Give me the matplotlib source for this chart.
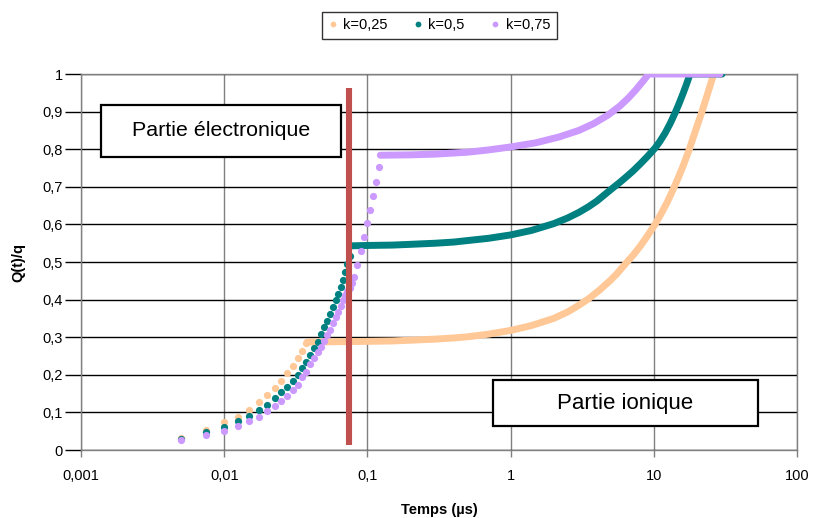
"""
Q(t)/q versus time for three values of k (electronic then ionic part).
"""

import matplotlib.pyplot as plt
from matplotlib.patches import Rectangle
from matplotlib.ticker import NullLocator

plt.rcParams["font.family"] = ["Liberation Sans", "DejaVu Sans"]

# -- Data ----------------------------------------------------------------------
series_labels = ["k=0,25", "k=0,5", "k=0,75"]
series_colors = ["#FFC896", "#008080", "#CC99FF"]

# electronic part: individual sampled points
orange_dot_t = [0.005, 0.0075, 0.01, 0.0125, 0.015, 0.0175, 0.02, 0.0225,
                0.025, 0.0275, 0.03, 0.0325, 0.035, 0.0375]
orange_dot_q = [0.033, 0.053, 0.074, 0.088, 0.107, 0.127, 0.145, 0.164,
                0.184, 0.204, 0.223, 0.244, 0.264, 0.284]

teal_dot_t = [0.005, 0.0075, 0.01, 0.0125, 0.015, 0.0175, 0.02, 0.0225,
              0.025, 0.0275, 0.03, 0.0325, 0.035, 0.0375, 0.04, 0.0425,
              0.045, 0.0475, 0.05, 0.0525, 0.055, 0.0575, 0.06, 0.0625,
              0.065, 0.0675, 0.07, 0.0725, 0.075]
teal_dot_q = [0.029, 0.048, 0.060, 0.077, 0.091, 0.106, 0.121, 0.139,
              0.154, 0.168, 0.184, 0.200, 0.219, 0.235, 0.253, 0.270,
              0.288, 0.308, 0.326, 0.344, 0.362, 0.380, 0.398, 0.416,
              0.434, 0.453, 0.473, 0.495, 0.515]

purple_dot_t = [0.005, 0.0075, 0.01, 0.0125, 0.015, 0.0175, 0.02, 0.0225,
                0.025, 0.0275, 0.03, 0.0325, 0.035, 0.0375, 0.04, 0.0425,
                0.045, 0.0475, 0.05, 0.0525, 0.055, 0.0575, 0.06, 0.0625,
                0.065, 0.0675, 0.07, 0.0725, 0.075, 0.0775, 0.08, 0.085,
                0.09, 0.095, 0.1, 0.105, 0.11, 0.115, 0.12]
purple_dot_q = [0.026, 0.039, 0.050, 0.064, 0.078, 0.089, 0.103, 0.117,
                0.130, 0.144, 0.160, 0.174, 0.194, 0.208, 0.229, 0.245,
                0.260, 0.275, 0.290, 0.305, 0.320, 0.337, 0.353, 0.368,
                0.383, 0.398, 0.412, 0.422, 0.432, 0.445, 0.460, 0.492,
                0.530, 0.567, 0.603, 0.638, 0.676, 0.714, 0.753]

# ionic part: dense samples that read as a continuous thick line
orange_line_t = [0.038, 0.06, 0.1, 0.15, 0.2, 0.3, 0.4, 0.5, 0.7, 1, 1.4, 2,
                 2.5, 3, 3.5, 4.2, 5, 5.5, 6.3, 7.2, 8, 8.9, 10.2, 11.2, 12.3,
                 13.2, 14.1, 15, 16, 17.6, 19.5, 21.7, 24, 26.2, 30]
orange_line_q = [0.287, 0.288, 0.289, 0.290, 0.292, 0.295, 0.298, 0.301,
                 0.308, 0.318, 0.331, 0.350, 0.367, 0.385, 0.402, 0.426,
                 0.452, 0.468, 0.494, 0.519, 0.541, 0.566, 0.600, 0.627,
                 0.656, 0.681, 0.705, 0.729, 0.755, 0.797, 0.848, 0.900,
                 0.953, 1.0, 1.0]

teal_line_t = [0.0775, 0.1, 0.15, 0.2, 0.3, 0.4, 0.5, 0.7, 1, 1.4, 2, 2.5,
               3, 3.5, 4, 4.5, 5.1, 5.8, 6.5, 7.2, 8, 9, 10.2, 11, 12, 13,
               14.1, 15, 16, 17, 17.9, 30]
teal_line_q = [0.543, 0.544, 0.545, 0.547, 0.550, 0.553, 0.557, 0.563,
               0.572, 0.584, 0.602, 0.617, 0.632, 0.647, 0.662, 0.678,
               0.695, 0.712, 0.728, 0.743, 0.760, 0.780, 0.803, 0.820,
               0.843, 0.868, 0.897, 0.921, 0.948, 0.975, 1.0, 1.0]

purple_line_t = [0.123, 0.2, 0.3, 0.5, 0.7, 1, 1.5, 2.2, 3, 3.8, 4.8, 5.8,
                 6.6, 7.5, 8.5, 9.2, 29]
purple_line_q = [0.784, 0.785, 0.787, 0.792, 0.798, 0.806, 0.817, 0.833,
                 0.850, 0.868, 0.891, 0.915, 0.935, 0.958, 0.983, 1.0, 1.0]

# boundary between electronic and ionic parts
boundary_t = [0.074, 0.074]
boundary_q = [0.012, 0.963]

x_ticks = [0.001, 0.01, 0.1, 1, 10, 100]
x_tick_labels = ["0,001", "0,01", "0,1", "1", "10", "100"]
y_ticks = [0, 0.1, 0.2, 0.3, 0.4, 0.5, 0.6, 0.7, 0.8, 0.9, 1]
y_tick_labels = ["0", "0,1", "0,2", "0,3", "0,4", "0,5", "0,6", "0,7", "0,8", "0,9", "1"]

# -- Plot ----------------------------------------------------------------------
W, H = 815, 518
fig = plt.figure(figsize=(W / 100, H / 100), dpi=100)
ax = fig.add_axes([81 / W, 1 - 450 / H, 716 / W, 376 / H])

dots = [(orange_dot_t, orange_dot_q), (teal_dot_t, teal_dot_q), (purple_dot_t, purple_dot_q)]
lines = [(orange_line_t, orange_line_q), (teal_line_t, teal_line_q), (purple_line_t, purple_line_q)]

handles = []
for i, ((dt, dq), (lt, lq)) in enumerate(zip(dots, lines)):
    color = series_colors[i]
    ax.plot(lt, lq, color=color, lw=5, solid_capstyle="round",
            solid_joinstyle="round", zorder=3 + i)
    h, = ax.plot(dt, dq, "o", color=color, ms=5.2, mew=0, ls="none",
                 zorder=3 + i, label=series_labels[i])
    handles.append(h)

ax.plot(boundary_t, boundary_q, color="#C0504D", lw=4.4, solid_capstyle="butt", zorder=7)

ax.set_xscale("log")
ax.set_xlim(0.001, 100)
ax.set_ylim(0, 1)
ax.set_xticks(x_ticks)
ax.set_xticklabels(x_tick_labels)
ax.xaxis.set_minor_locator(NullLocator())
ax.set_yticks(y_ticks)
ax.set_yticklabels(y_tick_labels)

ax.set_axisbelow(True)
ax.yaxis.grid(True, color="black", lw=1)
ax.xaxis.grid(True, color="#808080", lw=1)
for side in ax.spines:
    ax.spines[side].set_color("#808080")
    ax.spines[side].set_linewidth(1)

ax.tick_params(axis="y", length=11.5, width=1, color="black", pad=1.5, labelsize=10.5)
ax.tick_params(axis="x", length=5, width=1, color="#808080", pad=9, labelsize=10.5)

ax.set_xlabel("Temps (µs)", fontweight="bold", fontsize=10.5, labelpad=14)
ax.set_ylabel("Q(t)/q", fontweight="bold", fontsize=10.5)
ax.yaxis.set_label_coords(-0.078, 0.5)

# annotation boxes
ax.add_patch(Rectangle((0.028, 0.779), 0.335, 0.139, transform=ax.transAxes,
                       facecolor="white", edgecolor="black", lw=1.6, zorder=8))
ax.text(0.028 + 0.335 / 2, 0.779 + 0.139 / 2, "Partie électronique",
        transform=ax.transAxes, ha="center", va="center", fontsize=15.4, zorder=9)

ax.add_patch(Rectangle((0.575, 0.064), 0.370, 0.122, transform=ax.transAxes,
                       facecolor="white", edgecolor="black", lw=1.6, zorder=8))
ax.text(0.575 + 0.370 / 2, 0.064 + 0.122 / 2, "Partie ionique",
        transform=ax.transAxes, ha="center", va="center", fontsize=16, zorder=9)

leg = fig.legend(handles=handles, loc="upper center", bbox_to_anchor=(0.539, 0.977),
                 ncol=3, frameon=True, fancybox=False, edgecolor="black",
                 fontsize=10.5, handlelength=0.6, handletextpad=0.4,
                 columnspacing=1.8, borderpad=0.45, borderaxespad=0,
                 markerscale=0.8)
leg.get_frame().set_linewidth(1)

fig.savefig("out.png", dpi=100)
